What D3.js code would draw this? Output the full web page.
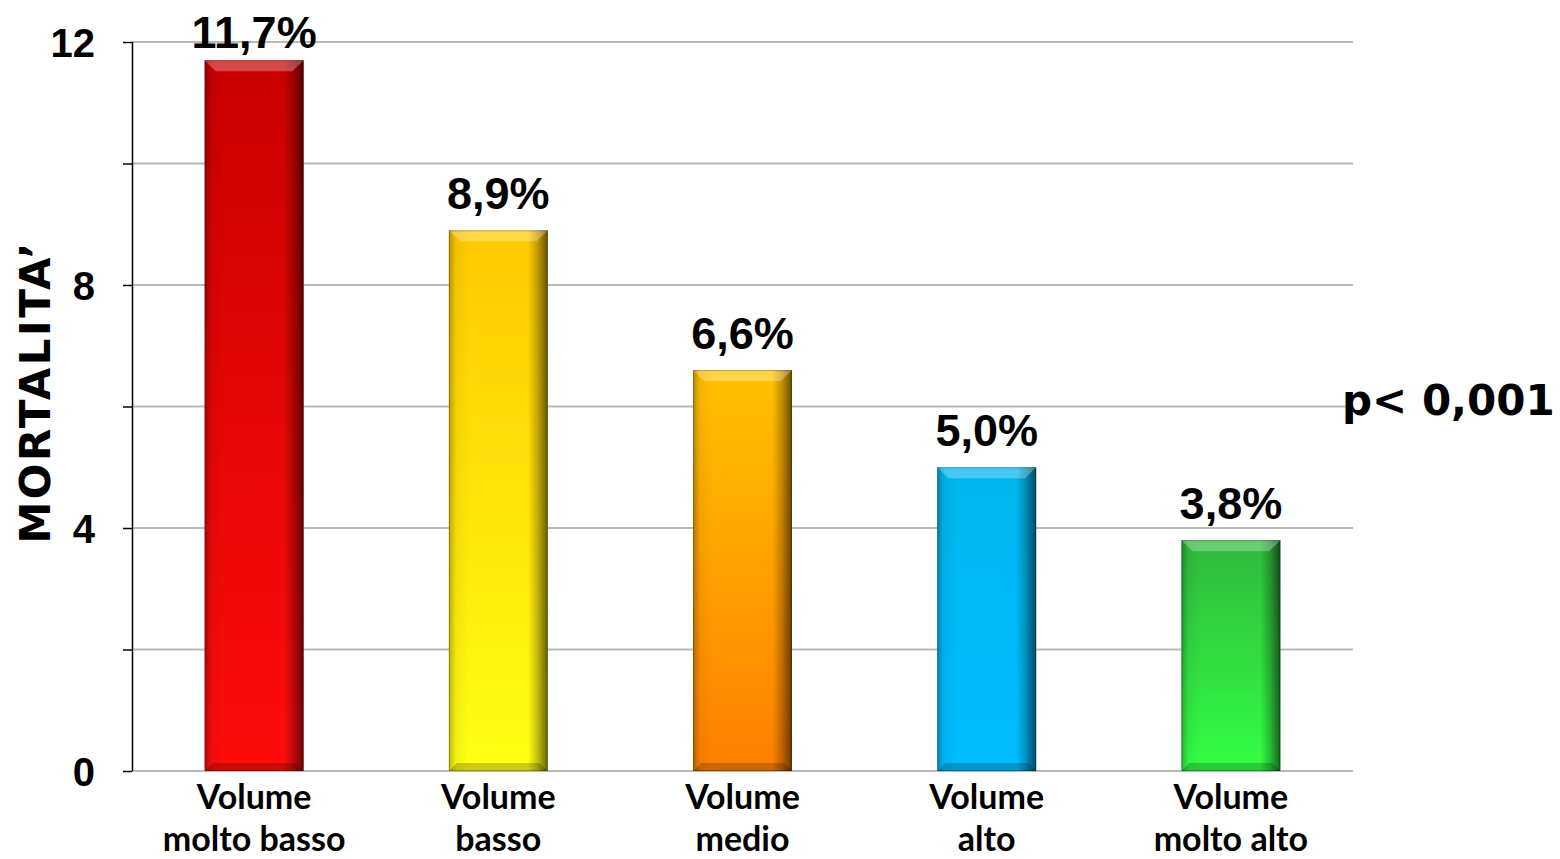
<!DOCTYPE html>
<html>
<head>
<meta charset="utf-8">
<script src="https://cdn.jsdelivr.net/npm/d3@7"></script>
<style>
  html, body { margin: 0; padding: 0; background: #fff; }
  svg { display: block; }
</style>
</head>
<body>
<svg id="chart" width="1560" height="859"></svg>
<script>
// Mortality by hospital volume
const categories = [
  ["Volume", "molto basso"],
  ["Volume", "basso"],
  ["Volume", "medio"],
  ["Volume", "alto"],
  ["Volume", "molto alto"]
];
const mortality = [11.7, 8.9, 6.6, 5.0, 3.8];
const valueLabels = ["11,7%", "8,9%", "6,6%", "5,0%", "3,8%"];
const tickValues = [0, 2, 4, 6, 8, 10, 12];
const tickLabels = ["0", "", "4", "", "8", "", "12"];
const yTitle = "MORTALITA\u2019";
const pValue = "p< 0,001";

// bar colour stops: top, bottom
const barColors = [
  ["#c90000", "#ff0c0c"],
  ["#ffc800", "#ffff14"],
  ["#ffc200", "#ff7f00"],
  ["#00b6ee", "#00bcff"],
  ["#2fb83c", "#33ff44"]
];

const svg = d3.select("#chart");
const plotLeft = 132, plotRight = 1353, plotTop = 42, plotBottom = 771;

const x = d3.scaleBand()
  .domain(d3.range(mortality.length))
  .range([plotLeft, plotRight])
  .paddingInner(0.595)
  .paddingOuter(0.2975);

const y = d3.scaleLinear().domain([0, 12]).range([plotBottom, plotTop]);

const defs = svg.append("defs");
barColors.forEach((c, i) => {
  const g = defs.append("linearGradient").attr("id", "fill" + i)
    .attr("x1", 0).attr("y1", 0).attr("x2", 0).attr("y2", 1);
  g.append("stop").attr("offset", "0%").attr("stop-color", c[0]);
  g.append("stop").attr("offset", "100%").attr("stop-color", c[1]);
});
const side = defs.append("linearGradient").attr("id", "side")
  .attr("x1", 0).attr("y1", 0).attr("x2", 1).attr("y2", 0);
[[0, 0.28], [0.07, 0.05], [0.2, 0], [0.8, 0], [0.9, 0.25], [1, 0.6]].forEach(s =>
  side.append("stop").attr("offset", s[0]).attr("stop-color", "#000").attr("stop-opacity", s[1]));

// gridlines
svg.append("g")
  .selectAll("line")
  .data(tickValues)
  .join("line")
  .attr("x1", plotLeft).attr("x2", plotRight)
  .attr("y1", d => y(d)).attr("y2", d => y(d))
  .attr("stroke", "#b9b9b9").attr("stroke-width", 2);

// y axis
const yAxis = d3.axisLeft(y)
  .tickValues(tickValues)
  .tickSize(9)
  .tickFormat((d, i) => tickLabels[i]);
const axisG = svg.append("g").attr("transform", `translate(${plotLeft},0)`).call(yAxis);
axisG.select(".domain").attr("stroke", "#000").attr("stroke-width", 1.5)
  .attr("d", `M0.5,${plotTop}V${plotBottom}`);
axisG.selectAll(".tick line").attr("stroke", "#000").attr("stroke-width", 1.5);
axisG.selectAll(".tick text")
  .attr("x", -37)
  .attr("dy", "0.35em")
  .attr("fill", "#000")
  .style("font-family", "'Liberation Sans', Arial, sans-serif")
  .style("font-weight", "bold")
  .style("font-size", "40px");

// bars
const bars = svg.append("g").selectAll("g").data(mortality).join("g");
const bw = x.bandwidth();
bars.append("rect")
  .attr("x", (d, i) => x(i)).attr("y", d => y(d))
  .attr("width", bw).attr("height", d => y(0) - y(d))
  .attr("fill", (d, i) => `url(#fill${i})`);
bars.append("rect")
  .attr("x", (d, i) => x(i)).attr("y", d => y(d))
  .attr("width", bw).attr("height", d => y(0) - y(d))
  .attr("fill", "url(#side)");
// top bevel highlight
bars.append("path")
  .attr("d", (d, i) => {
    const x0 = x(i), y0 = y(d), b = 11;
    return `M${x0},${y0}H${x0 + bw}L${x0 + bw - b},${y0 + b}H${x0 + b}Z`;
  })
  .attr("fill", "#fff").attr("fill-opacity", 0.28);
// bottom bevel shade
bars.append("path")
  .attr("d", (d, i) => {
    const x0 = x(i), y0 = y(0), b = 8;
    return `M${x0},${y0}H${x0 + bw}L${x0 + bw - b},${y0 - b}H${x0 + b}Z`;
  })
  .attr("fill", "#000").attr("fill-opacity", 0.2);
bars.append("rect")
  .attr("x", (d, i) => x(i) + 0.5).attr("y", d => y(d) + 0.5)
  .attr("width", bw - 1).attr("height", d => y(0) - y(d) - 1)
  .attr("fill", "none").attr("stroke", "#000").attr("stroke-opacity", 0.25);

// value labels
svg.append("g").selectAll("text").data(mortality).join("text")
  .attr("x", (d, i) => x(i) + bw / 2)
  .attr("y", d => Math.max(y(d) - 21, 48))
  .attr("text-anchor", "middle")
  .style("font-family", "'Liberation Sans', Arial, sans-serif")
  .style("font-weight", "bold")
  .style("font-size", "45px")
  .text((d, i) => valueLabels[i]);

// category labels
const cat = svg.append("g").selectAll("text").data(categories).join("text")
  .attr("text-anchor", "middle")
  .style("font-family", "Lato, 'Open Sans', sans-serif")
  .style("font-weight", "bold")
  .style("font-size", "34px")
  .attr("fill", "#000");
cat.selectAll("tspan").data((d, i) => d.map(t => ({ t, i }))).join("tspan")
  .attr("x", d => x(d.i) + bw / 2)
  .attr("y", (d, j) => 809 + j * 42)
  .text(d => d.t);

// y axis title
svg.append("text")
  .attr("transform", "translate(50,392) rotate(-90)")
  .attr("text-anchor", "middle")
  .style("font-family", "'DejaVu Sans', Verdana, sans-serif")
  .style("font-weight", "bold")
  .style("font-size", "42px")
  .style("letter-spacing", "2.5px")
  .text(yTitle);

// significance
svg.append("text")
  .attr("x", 1342).attr("y", 415)
  .style("font-family", "'DejaVu Sans', Verdana, sans-serif")
  .style("font-weight", "bold")
  .style("font-size", "42px")
  .text(pValue);
</script>
</body>
</html>
